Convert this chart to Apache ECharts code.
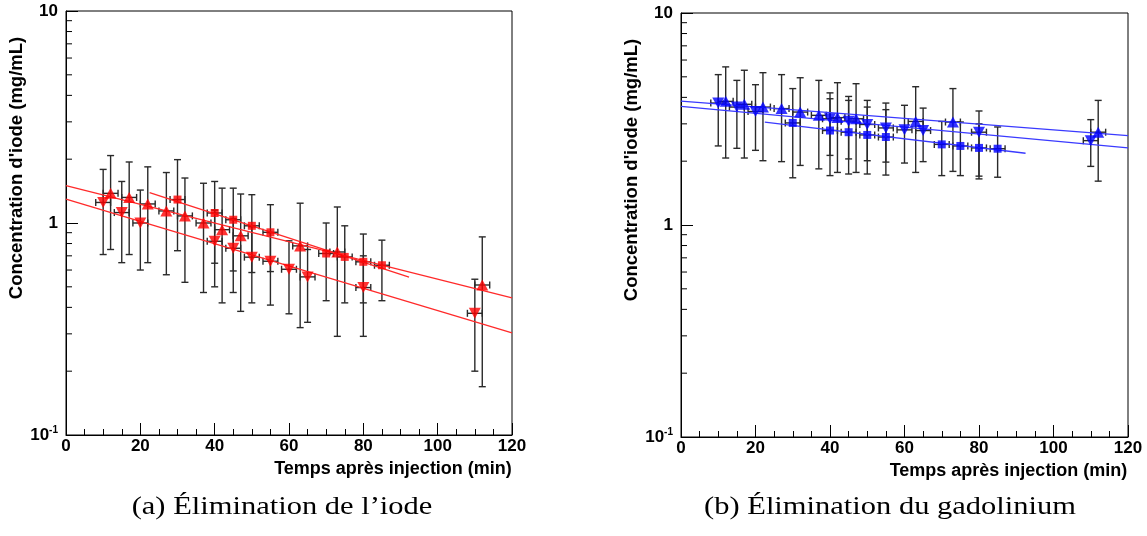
<!DOCTYPE html>
<html>
<head>
<meta charset="utf-8">
<script src="https://cdn.jsdelivr.net/npm/echarts@6/dist/echarts.min.js"></script>
<style>
html, body { margin: 0; padding: 0; background: #fff; }
#chart { width: 1147px; height: 536px; }
</style>
</head>
<body>
<div id="chart"></div>
<script>
// [temps (min), concentration, bas de la barre, haut de la barre]
const iodeUp = [
  [12, 1.38, 0.75, 2.08], [17, 1.32, 0.71, 1.94], [22, 1.23, 0.65, 1.84],
  [27, 1.14, 0.57, 1.73], [32, 1.08, 0.525, 1.63], [37, 1.0, 0.47, 1.54],
  [42, 0.93, 0.42, 1.46], [47, 0.87, 0.383, 1.37], [63, 0.78, 0.321, 1.24],
  [73, 0.73, 0.292, 1.19], [112, 0.51, 0.169, 0.86]
]
const iodeDown = [
  [10, 1.25, 0.71, 1.79], [15, 1.12, 0.65, 1.57], [20, 1.0, 0.6, 1.43],
  [40, 0.82, 0.5, 1.15], [45, 0.76, 0.47, 1.05], [50, 0.69, 0.42, 0.96],
  [55, 0.66, 0.41, 0.9], [60, 0.605, 0.373, 0.824], [65, 0.557, 0.34, 0.75],
  [80, 0.496, 0.292, 0.7], [110, 0.375, 0.2, 0.543]
]
const iodeSquare = [
  [30, 1.29, 0.74, 1.99], [40, 1.115, 0.646, 1.57], [45, 1.036, 0.594, 1.46],
  [50, 0.97, 0.584, 1.36], [55, 0.904, 0.59, 1.22], [70, 0.718, 0.43, 1.0],
  [75, 0.692, 0.42, 0.97], [80, 0.656, 0.42, 0.887], [85, 0.632, 0.43, 0.83]
]
const iodeFitUp = [[0, 1.5], [120, 0.443]]
const iodeFitDown = [[0, 1.295], [120, 0.303]]
const iodeFitSquare = [[22.5, 1.39], [92.3, 0.555]]

const gadoUp = [
  [12, 3.83, 2.07, 5.57], [17, 3.71, 2.07, 5.37], [22, 3.6, 2.01, 5.23],
  [27, 3.54, 1.99, 5.12], [32, 3.41, 1.91, 4.95], [37, 3.29, 1.84, 4.81],
  [42, 3.21, 1.77, 4.69], [47, 3.17, 1.77, 4.64], [63, 3.08, 1.77, 4.49],
  [73, 3.06, 1.79, 4.4], [112, 2.74, 1.61, 3.87]
]
const gadoDown = [
  [10, 3.76, 2.36, 5.12], [15, 3.6, 2.3, 4.81], [20, 3.43, 2.25, 4.59],
  [40, 3.17, 2.13, 4.2], [45, 3.09, 2.05, 4.04], [50, 2.98, 2.01, 3.87],
  [55, 2.87, 1.98, 3.76], [60, 2.81, 1.96, 3.67], [65, 2.79, 1.99, 3.56],
  [80, 2.74, 1.65, 3.45], [110, 2.5, 1.89, 3.14]
]
const gadoSquare = [
  [30, 3.03, 1.67, 4.4], [40, 2.79, 1.71, 3.94], [45, 2.74, 1.74, 3.87],
  [50, 2.66, 1.74, 3.6], [55, 2.6, 1.72, 3.5], [70, 2.4, 1.71, 3.08],
  [75, 2.36, 1.71, 3.06], [80, 2.31, 1.7, 3.0], [85, 2.29, 1.68, 2.9]
]
const gadoFitUp = [[0, 3.84], [120, 2.64]]
const gadoFitDown = [[0, 3.63], [120, 2.31]]
const gadoFitSquare = [[22.5, 3.06], [92.5, 2.18]]

const timeErr = 2
const yMinorTicks = [0.2, 0.3, 0.4, 0.5, 0.6, 0.7, 0.8, 0.9, 2, 3, 4, 5, 6, 7, 8, 9]
const captions = ['(a) Élimination de l’iode', '(b) Élimination du gadolinium']

const chart = echarts.init(document.getElementById('chart'), null, { renderer: 'canvas' })

const sans = 'Liberation Sans, Arial, sans-serif'
const barColor = '#2a2a2a'

function seg(x1, y1, x2, y2) {
  return { type: 'line', shape: { x1, y1, x2, y2 }, style: { stroke: barColor, lineWidth: 1.4 } }
}

// barres d'erreur verticales et horizontales
function renderErrorBar(params, api) {
  const x = api.value(0), y = api.value(1), lo = api.value(2), hi = api.value(3)
  const top = api.coord([x, hi]), bot = api.coord([x, lo])
  const l = api.coord([x - timeErr, y]), r = api.coord([x + timeErr, y])
  const c = 3.5
  return {
    type: 'group',
    children: [
      seg(top[0], top[1], bot[0], bot[1]),
      seg(top[0] - c, top[1], top[0] + c, top[1]),
      seg(bot[0] - c, bot[1], bot[0] + c, bot[1]),
      seg(l[0], l[1], r[0], r[1]),
      seg(l[0], l[1] - c, l[0], l[1] + c),
      seg(r[0], r[1] - c, r[0], r[1] + c)
    ]
  }
}

// petites graduations logarithmiques
function renderMinorTick(params, api) {
  const p = api.coord([0, api.value(1)])
  return {
    type: 'line',
    shape: { x1: p[0], y1: p[1], x2: p[0] + 6, y2: p[1] },
    style: { stroke: '#000', lineWidth: 1 }
  }
}

function xAxisFor(idx) {
  return {
    gridIndex: idx,
    type: 'value',
    min: 0,
    max: 120,
    interval: 20,
    name: 'Temps après injection (min)',
    nameLocation: 'middle',
    nameGap: 24,
    nameTextStyle: { fontFamily: sans, fontWeight: 'bold', fontSize: 18, color: '#000', padding: [0, 0, 0, 208] },
    axisLine: { lineStyle: { color: '#000', width: 1 } },
    axisTick: { inside: true, length: 12, lineStyle: { color: '#000' } },
    minorTick: { show: true, splitNumber: 4, length: 6, lineStyle: { color: '#000' } },
    axisLabel: { fontFamily: sans, fontWeight: 'bold', fontSize: 17, color: '#000', margin: 3 },
    splitLine: { show: false }
  }
}

function yAxisFor(idx) {
  return {
    gridIndex: idx,
    type: 'log',
    logBase: 10,
    min: 0.1,
    max: 10,
    name: 'Concentration d\'iode (mg/mL)',
    nameLocation: 'middle',
    nameGap: 37,
    nameTextStyle: { fontFamily: sans, fontWeight: 'bold', fontSize: 18.5, color: '#000', padding: [0, 0, 0, 110] },
    axisLine: { lineStyle: { color: '#000', width: 1 } },
    axisTick: { inside: true, length: 12, lineStyle: { color: '#000' } },
    axisLabel: {
      fontFamily: sans, fontWeight: 'bold', fontSize: 17, color: '#000', margin: 8,
      formatter: function (v) {
        if (v < 0.5) return '{b|10}{s|-1}'
        return '{b|' + Math.round(v) + '}'
      },
      rich: {
        b: { fontFamily: sans, fontWeight: 'bold', fontSize: 17, color: '#000' },
        s: { fontFamily: sans, fontWeight: 'bold', fontSize: 10, color: '#000', padding: [0, 0, 9, 0] }
      }
    },
    splitLine: { show: false }
  }
}

function seriesFor(idx, up, down, square, fitUp, fitDown, fitSquare, color) {
  const base = { xAxisIndex: idx, yAxisIndex: idx }
  const out = []
  ;[up, down, square].forEach(d => {
    out.push(Object.assign({
      type: 'custom', renderItem: renderErrorBar, data: d,
      encode: { x: 0, y: 1 }, z: 2, silent: true
    }, base))
  })
  ;[fitUp, fitDown, fitSquare].forEach(d => {
    out.push(Object.assign({
      type: 'line', data: d, showSymbol: false, z: 3, silent: true,
      lineStyle: { color: color.line, width: 1.3 }
    }, base))
  })
  out.push(Object.assign({
    type: 'scatter', data: up.map(p => [p[0], p[1]]), symbol: 'triangle',
    symbolSize: [12, 11], itemStyle: { color: color.mark }, z: 4
  }, base))
  out.push(Object.assign({
    type: 'scatter', data: down.map(p => [p[0], p[1]]), symbol: 'triangle',
    symbolRotate: 180, symbolSize: [12, 11], itemStyle: { color: color.mark }, z: 4
  }, base))
  out.push(Object.assign({
    type: 'scatter', data: square.map(p => [p[0], p[1]]), symbol: 'rect',
    symbolSize: 8, itemStyle: { color: color.mark }, z: 4
  }, base))
  out.push(Object.assign({
    type: 'custom', renderItem: renderMinorTick, data: yMinorTicks.map(v => [0, v]),
    encode: { x: 0, y: 1 }, z: 5, silent: true
  }, base))
  return out
}

const captionStyle = { font: '25px "Liberation Serif", serif', fill: '#000', textAlign: 'center', textVerticalAlign: 'middle' }

const option = {
  backgroundColor: '#fff',
  animation: false,
  grid: [
    { left: 66, top: 11, width: 446, height: 424, show: true, borderColor: '#000', borderWidth: 1 },
    { left: 681, top: 13, width: 447, height: 424, show: true, borderColor: '#000', borderWidth: 1 }
  ],
  xAxis: [xAxisFor(0), xAxisFor(1)],
  yAxis: [yAxisFor(0), yAxisFor(1)],
  series: [].concat(
    seriesFor(0, iodeUp, iodeDown, iodeSquare, iodeFitUp, iodeFitDown, iodeFitSquare,
      { mark: '#ff0000', line: '#ff2a2a' }),
    seriesFor(1, gadoUp, gadoDown, gadoSquare, gadoFitUp, gadoFitDown, gadoFitSquare,
      { mark: '#0000ff', line: '#3a3aff' })
  ),
  graphic: [
    { type: 'text', x: 282, y: 507, scaleX: 1.22, style: Object.assign({ text: captions[0] }, captionStyle) },
    { type: 'text', x: 890, y: 507, scaleX: 1.22, style: Object.assign({ text: captions[1] }, captionStyle) }
  ]
}

chart.setOption(option)
</script>
</body>
</html>
